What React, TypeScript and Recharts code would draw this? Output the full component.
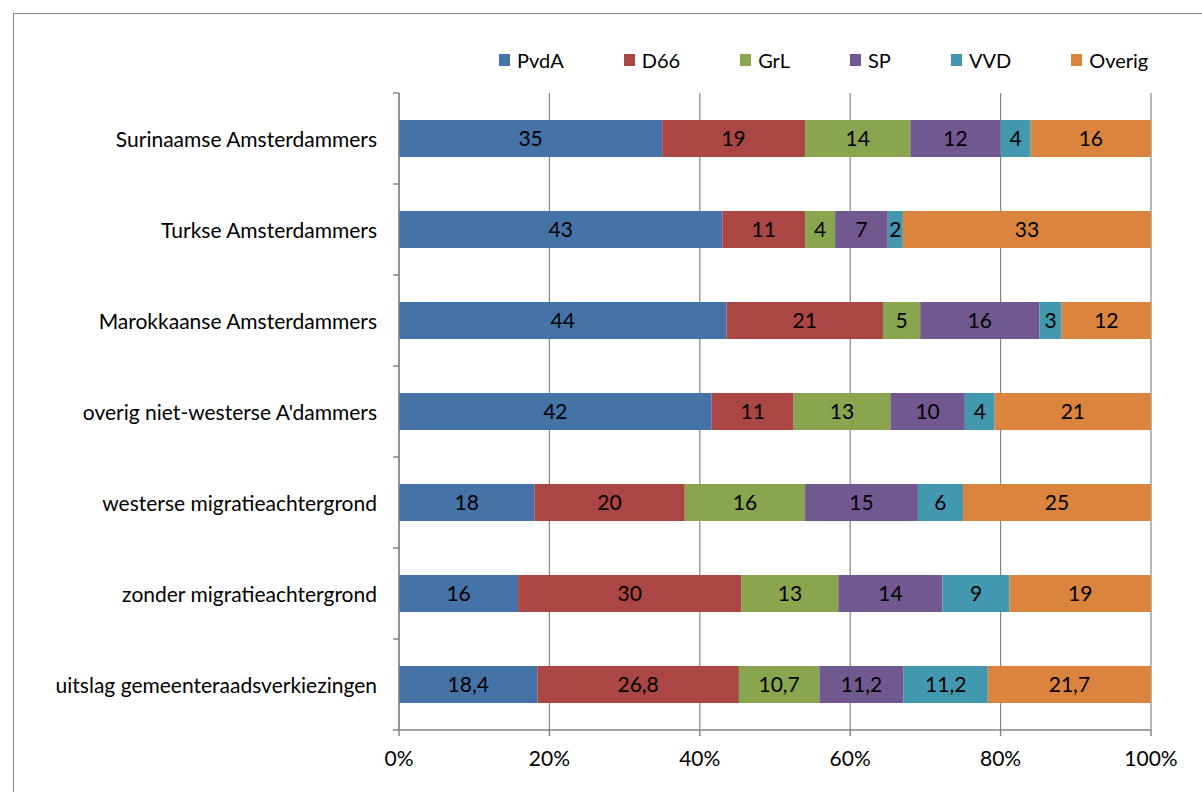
import React from "react";
import {
  BarChart,
  Bar,
  XAxis,
  YAxis,
  CartesianGrid,
  LabelList,
} from "recharts";

// categories (top to bottom)
const categories = [
  "Surinaamse Amsterdammers",
  "Turkse Amsterdammers",
  "Marokkaanse Amsterdammers",
  "overig niet-westerse A'dammers",
  "westerse migratieachtergrond",
  "zonder migratieachtergrond",
  "uitslag gemeenteraadsverkiezingen",
];

// party shares per category
const pvda = [35, 43, 44, 42, 18, 16, 18.4];
const d66 = [19, 11, 21, 11, 20, 30, 26.8];
const grl = [14, 4, 5, 13, 16, 13, 10.7];
const sp = [12, 7, 16, 10, 15, 14, 11.2];
const vvd = [4, 2, 3, 4, 6, 9, 11.2];
const overig = [16, 33, 12, 21, 25, 19, 21.7];

const xTicks = [0, 0.2, 0.4, 0.6, 0.8, 1];

const series = [
  { key: "PvdA", values: pvda, color: "#4572A7" },
  { key: "D66", values: d66, color: "#AA4643" },
  { key: "GrL", values: grl, color: "#89A54E" },
  { key: "SP", values: sp, color: "#71588F" },
  { key: "VVD", values: vvd, color: "#4198AF" },
  { key: "Overig", values: overig, color: "#DB843D" },
];

const data = categories.map((name, i) => {
  const row: Record<string, string | number> = { name };
  series.forEach((s) => {
    row[s.key] = s.values[i];
  });
  return row;
});

const W = 1202;
const H = 792;
const X_AXIS_H = 62;
const Y_AXIS_W = 399;
const M = { top: 93, right: 51, bottom: 0, left: 0 };
const STEP = (H - M.top - X_AXIS_H) / categories.length;
const FONT = "Lato, 'Liberation Sans', sans-serif";
const FS = 21;
const AXIS = "#868686";

const fmt = (v: any) => String(v).replace(".", ",");

function CategoryTick(props: any) {
  const { x, y, payload, index } = props;
  const axisX = x + 16 + 6;
  return (
    <g>
      <text
        x={x}
        y={y}
        textAnchor="end"
        dominantBaseline="central"
        fontSize={FS}
        fontFamily={FONT}
        fill="#000"
      >
        {payload.value}
      </text>
      <line x1={axisX - 6} x2={axisX} y1={y - STEP / 2} y2={y - STEP / 2} stroke={AXIS} strokeWidth={1.5} />
      {index === categories.length - 1 && (
        <line x1={axisX - 6} x2={axisX} y1={y + STEP / 2} y2={y + STEP / 2} stroke={AXIS} strokeWidth={1.5} />
      )}
    </g>
  );
}

export default function App() {
  return (
    <div
      style={{
        position: "absolute",
        left: 0,
        top: 0,
        width: W,
        height: H,
        overflow: "hidden",
        background: "#fff",
        fontFamily: FONT,
      }}
    >
      {/* chart frame, cut off at right and bottom */}
      <div
        style={{
          position: "absolute",
          left: 13,
          top: 13,
          width: W + 100,
          height: H + 100,
          border: "1.5px solid #8c8c8c",
        }}
      />

      {/* legend */}
      <div
        style={{
          position: "absolute",
          left: 499,
          top: 47,
          display: "flex",
          alignItems: "center",
          fontSize: 20,
          lineHeight: "26px",
          color: "#000",
        }}
      >
        {series.map((s) => (
          <div key={s.key} style={{ display: "flex", alignItems: "center", marginRight: 60 }}>
            <span style={{ width: 11, height: 12, background: s.color, marginRight: 7, display: "inline-block" }} />
            <span>{s.key}</span>
          </div>
        ))}
      </div>

      <div style={{ position: "absolute", left: 0, top: 0 }}>
        <BarChart
          width={W}
          height={H}
          data={data}
          layout="vertical"
          stackOffset="expand"
          margin={M}
          barSize={37}
        >
          <CartesianGrid horizontal={false} vertical stroke={AXIS} strokeWidth={1.2} />
          <XAxis
            type="number"
            domain={[0, 1]}
            ticks={xTicks}
            tickFormatter={(v) => `${Math.round(v * 100)}%`}
            stroke={AXIS}
            strokeWidth={1.5}
            tickSize={6}
            tickMargin={15}
            height={X_AXIS_H}
            tick={{ fill: "#000", fontSize: FS, fontFamily: FONT }}
            interval={0}
          />
          <YAxis
            type="category"
            dataKey="name"
            width={Y_AXIS_W}
            stroke={AXIS}
            strokeWidth={1.5}
            tickLine={false}
            tickSize={6}
            tickMargin={16}
            tick={<CategoryTick />}
            interval={0}
          />
          {series.map((s) => (
            <Bar key={s.key} dataKey={s.key} stackId="a" fill={s.color} isAnimationActive={false}>
              <LabelList
                dataKey={s.key}
                position="center"
                formatter={fmt}
                fill="#000"
                fontSize={FS}
                fontFamily={FONT}
              />
            </Bar>
          ))}
        </BarChart>
      </div>
    </div>
  );
}
